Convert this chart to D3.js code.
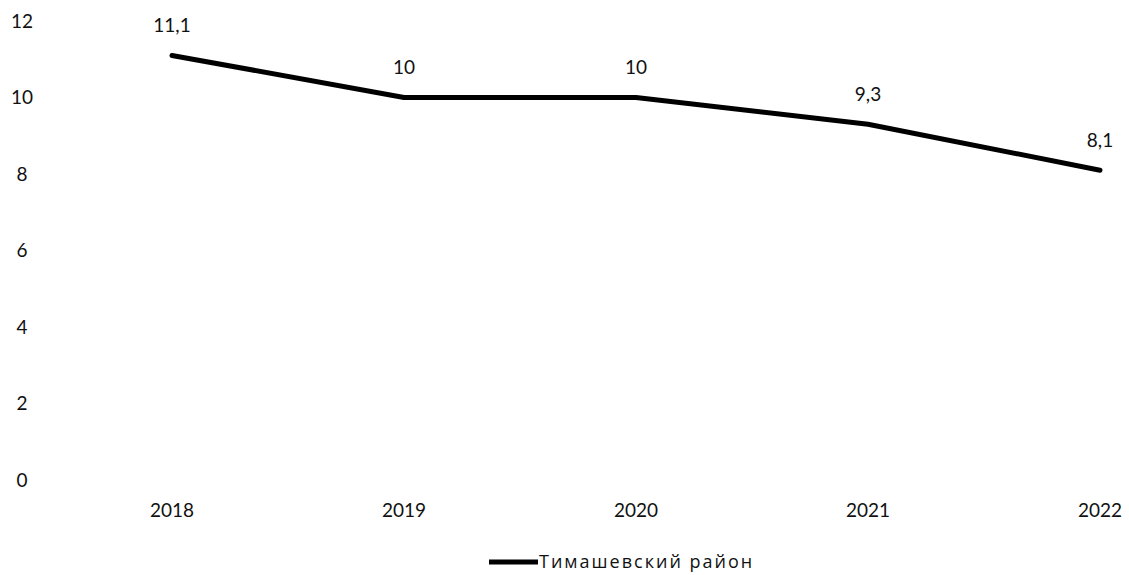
<!DOCTYPE html>
<html><head><meta charset="utf-8">
<script src="https://cdn.jsdelivr.net/npm/d3@7"></script>
<style>body{margin:0;background:#fff}svg text{font-family:Lato,"Open Sans",sans-serif;fill:#111}</style>
</head><body>
<svg id="c" width="1129" height="575"></svg>
<script>
const categories = ["2018","2019","2020","2021","2022"];
const values = [11.1, 10, 10, 9.3, 8.1];
const labels = ["11,1","10","10","9,3","8,1"];
const yTicks = [0,2,4,6,8,10,12];
const seriesName = "Тимашевский район";

const svg = d3.select("#c");
const x = d3.scalePoint().domain(categories).range([172,1100]);
const y = d3.scaleLinear().domain([0,12]).range([480,21]);
const fs = 19;

svg.append("g").selectAll("text").data(yTicks).join("text")
  .attr("x",22).attr("y",d=>y(d)).attr("dy","0.35em").attr("text-anchor","middle")
  .attr("font-size",fs).text(d=>d);

svg.append("g").selectAll("text").data(categories).join("text")
  .attr("x",d=>x(d)).attr("y",510).attr("dy","0.35em").attr("text-anchor","middle")
  .attr("font-size",fs).text(d=>d);

const line = d3.line().x((d,i)=>x(categories[i])).y(d=>y(d));
svg.append("path").datum(values).attr("d",line).attr("fill","none")
  .attr("stroke","#000").attr("stroke-width",5).attr("stroke-linecap","round").attr("stroke-linejoin","round");

svg.append("g").selectAll("text").data(values).join("text")
  .attr("x",(d,i)=>x(categories[i])).attr("y",d=>y(d)-30).attr("dy","0.35em").attr("text-anchor","middle")
  .attr("font-size",fs).text((d,i)=>labels[i]);

const lg = svg.append("g");
lg.append("line").attr("x1",489).attr("x2",538).attr("y1",562).attr("y2",562).attr("stroke","#000").attr("stroke-width",5);
lg.append("text").attr("x",539).attr("y",562).attr("dy","0.35em").attr("font-size",18)
  .style("font-family","'Open Sans',sans-serif").attr("letter-spacing",2).text(seriesName);
</script>
</body></html>
